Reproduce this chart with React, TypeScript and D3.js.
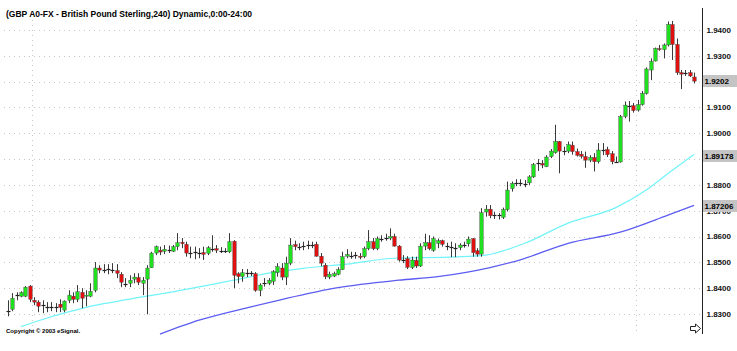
import React from 'react';
import * as d3 from 'd3';

const opens = [1.8315,1.8318,1.8369,1.8369,1.8369,1.8408,1.8353,1.8346,1.8338,1.8330,1.8328,1.8326,1.8338,1.8315,1.8353,1.8369,1.8357,1.8384,1.8369,1.8369,
1.8392,1.8478,1.8474,1.8472,1.8474,1.8468,1.8454,1.8419,1.8419,1.8435,1.8441,1.8419,1.8435,1.8479,1.8536,1.8547,1.8543,1.8551,1.8543,1.8561,
1.8578,1.8570,1.8540,1.8538,1.8540,1.8538,1.8535,1.8555,1.8553,1.8545,1.8543,1.8541,1.8582,1.8456,1.8445,1.8460,1.8458,1.8456,1.8392,1.8419,
1.8419,1.8427,1.8460,1.8478,1.8443,1.8497,1.8569,1.8561,1.8561,1.8565,1.8567,1.8570,1.8524,1.8489,1.8443,1.8447,1.8454,1.8472,1.8524,1.8528,
1.8526,1.8524,1.8522,1.8553,1.8580,1.8553,1.8590,1.8592,1.8594,1.8600,1.8563,1.8512,1.8514,1.8481,1.8508,1.8486,1.8563,1.8576,1.8547,1.8574,
1.8584,1.8565,1.8561,1.8559,1.8557,1.8567,1.8572,1.8592,1.8545,1.8532,1.8695,1.8706,1.8681,1.8681,1.8675,1.8704,1.8786,1.8806,1.8808,1.8806,
1.8808,1.8831,1.8881,1.8883,1.8871,1.8910,1.8925,1.8968,1.8931,1.8931,1.8954,1.8929,1.8919,1.8910,1.8896,1.8906,1.8890,1.8935,1.8937,1.8921,
1.8892,1.8889,1.9065,1.9109,1.9107,1.9090,1.9111,1.9154,1.9245,1.9280,1.9328,1.9324,1.9342,1.9421,1.9344,1.9235,1.9231,1.9235,1.9218];
const highs = [1.8353,1.8381,1.8384,1.8388,1.8408,1.8412,1.8365,1.8353,1.8353,1.8346,1.8346,1.8342,1.8357,1.8353,1.8392,1.8384,1.8412,1.8400,1.8392,1.8419,
1.8501,1.8489,1.8493,1.8493,1.8497,1.8493,1.8462,1.8439,1.8450,1.8458,1.8458,1.8443,1.8489,1.8541,1.8565,1.8561,1.8567,1.8565,1.8567,1.8613,
1.8594,1.8580,1.8561,1.8561,1.8555,1.8561,1.8563,1.8605,1.8567,1.8559,1.8555,1.8613,1.8586,1.8462,1.8474,1.8474,1.8466,1.8462,1.8419,1.8439,
1.8439,1.8470,1.8497,1.8497,1.8522,1.8594,1.8584,1.8574,1.8580,1.8584,1.8580,1.8580,1.8536,1.8497,1.8464,1.8464,1.8481,1.8541,1.8551,1.8541,
1.8540,1.8536,1.8561,1.8625,1.8594,1.8600,1.8605,1.8611,1.8632,1.8611,1.8567,1.8528,1.8524,1.8522,1.8522,1.8574,1.8611,1.8605,1.8600,1.8592,
1.8588,1.8576,1.8580,1.8574,1.8574,1.8580,1.8600,1.8594,1.8555,1.8710,1.8722,1.8722,1.8695,1.8691,1.8712,1.8813,1.8813,1.8822,1.8822,1.8819,
1.8838,1.8885,1.8900,1.8896,1.8915,1.8939,1.9033,1.8970,1.8948,1.8968,1.8968,1.8941,1.8931,1.8929,1.8915,1.8923,1.8962,1.8962,1.8948,1.8931,
1.8910,1.9071,1.9123,1.9125,1.9117,1.9129,1.9164,1.9255,1.9290,1.9332,1.9342,1.9348,1.9433,1.9435,1.9367,1.9245,1.9245,1.9245,1.9235];
const lows = [1.8291,1.8311,1.8353,1.8365,1.8365,1.8346,1.8334,1.8307,1.8303,1.8307,1.8311,1.8307,1.8307,1.8307,1.8342,1.8342,1.8346,1.8322,1.8330,1.8365,
1.8384,1.8458,1.8458,1.8454,1.8458,1.8439,1.8404,1.8404,1.8404,1.8419,1.8412,1.8373,1.8299,1.8478,1.8528,1.8528,1.8532,1.8536,1.8540,1.8547,
1.8555,1.8522,1.8516,1.8512,1.8516,1.8509,1.8528,1.8541,1.8536,1.8536,1.8536,1.8536,1.8400,1.8419,1.8425,1.8443,1.8447,1.8386,1.8369,1.8406,
1.8412,1.8412,1.8445,1.8431,1.8412,1.8489,1.8547,1.8547,1.8547,1.8551,1.8555,1.8522,1.8485,1.8435,1.8435,1.8443,1.8450,1.8470,1.8516,1.8514,
1.8514,1.8512,1.8516,1.8547,1.8547,1.8547,1.8580,1.8584,1.8586,1.8561,1.8503,1.8497,1.8474,1.8474,1.8478,1.8482,1.8547,1.8547,1.8541,1.8555,
1.8561,1.8547,1.8520,1.8520,1.8547,1.8557,1.8561,1.8522,1.8522,1.8522,1.8677,1.8671,1.8668,1.8666,1.8668,1.8697,1.8774,1.8795,1.8795,1.8791,
1.8800,1.8827,1.8854,1.8865,1.8869,1.8904,1.8921,1.8845,1.8915,1.8923,1.8917,1.8910,1.8902,1.8866,1.8888,1.8852,1.8883,1.8915,1.8908,1.8880,
1.8886,1.8886,1.9058,1.9045,1.9080,1.9084,1.9107,1.9150,1.9206,1.9278,1.9319,1.9290,1.9336,1.9284,1.9226,1.9171,1.9222,1.9218,1.9193];
const closes = [1.8313,1.8361,1.8372,1.8383,1.8404,1.8357,1.8346,1.8330,1.8336,1.8329,1.8326,1.8327,1.8326,1.8350,1.8373,1.8357,1.8386,1.8361,1.8373,1.8388,
1.8478,1.8470,1.8472,1.8474,1.8472,1.8458,1.8423,1.8416,1.8431,1.8443,1.8423,1.8431,1.8478,1.8536,1.8561,1.8540,1.8551,1.8549,1.8561,1.8576,
1.8572,1.8536,1.8538,1.8540,1.8538,1.8531,1.8557,1.8553,1.8547,1.8543,1.8545,1.8580,1.8450,1.8445,1.8460,1.8458,1.8460,1.8392,1.8412,1.8421,
1.8431,1.8464,1.8483,1.8443,1.8497,1.8567,1.8561,1.8559,1.8563,1.8567,1.8569,1.8524,1.8497,1.8445,1.8454,1.8456,1.8472,1.8522,1.8530,1.8526,
1.8528,1.8520,1.8553,1.8580,1.8553,1.8592,1.8592,1.8594,1.8600,1.8563,1.8509,1.8510,1.8481,1.8509,1.8486,1.8563,1.8576,1.8553,1.8592,1.8584,
1.8570,1.8563,1.8559,1.8557,1.8567,1.8568,1.8590,1.8538,1.8532,1.8692,1.8706,1.8681,1.8682,1.8683,1.8704,1.8780,1.8806,1.8808,1.8806,1.8804,
1.8831,1.8879,1.8883,1.8877,1.8908,1.8931,1.8968,1.8931,1.8933,1.8956,1.8929,1.8915,1.8911,1.8896,1.8906,1.8890,1.8935,1.8937,1.8917,1.8890,
1.8889,1.9065,1.9109,1.9107,1.9088,1.9111,1.9154,1.9249,1.9278,1.9328,1.9324,1.9342,1.9421,1.9344,1.9235,1.9229,1.9233,1.9222,1.9202];

const priceTicks = [1.83, 1.84, 1.85, 1.86, 1.87, 1.88, 1.89, 1.90, 1.91, 1.92, 1.93, 1.94];
const hiddenTicks = [1.92];
const separatorIdx = [5.5, 144.6];

const fastMaIdx = [3, 7, 17, 32, 38, 52, 60, 68, 78, 89, 103, 110, 119, 129, 140, 147, 152, 158];
const fastMaVals = [1.8251, 1.8274, 1.8322, 1.8369, 1.8386, 1.8431, 1.8458, 1.8477, 1.8493, 1.8516, 1.8521, 1.8528, 1.8574, 1.8652, 1.8712, 1.8780, 1.8844, 1.89178];
const slowMaIdx = [35, 44, 56, 63, 76, 90, 99, 111, 118, 129, 141, 152, 158];
const slowMaVals = [1.8222, 1.8276, 1.8328, 1.8356, 1.8402, 1.8431, 1.8445, 1.8480, 1.8510, 1.8574, 1.8617, 1.8683, 1.87206];

const lastPrice = 1.9202;
const fastLast = 1.89178;
const slowLast = 1.87206;

const title = '(GBP A0-FX - British Pound Sterling,240) Dynamic,0:00-24:00';
const copyright = 'Copyright \u00A9 2003 eSignal.';

export default function App() {
  const W = 737, H = 351;
  const n = closes.length;
  const x = d3.scaleLinear().domain([0, n - 1]).range([8, 694]);
  const y = d3.scaleLinear().domain([1.83, 1.94]).range([314, 30]);
  const font = '"Liberation Sans", Arial, sans-serif';
  const axisX = 702.5;

  const line = d3.line<[number, number]>()
    .x(d => x(d[0]))
    .y(d => y(d[1]))
    .curve(d3.curveMonotoneX);
  const fastPts = fastMaIdx.map((i, k) => [i, fastMaVals[k]] as [number, number]);
  const slowPts = slowMaIdx.map((i, k) => [i, slowMaVals[k]] as [number, number]);

  const fmt4 = d3.format('.4f');

  const labelBox = (v: number, text: string, key: string, shift: number) => {
    const cy = Math.round(y(v)) + shift;
    return (
      <g key={key}>
        <rect x={axisX + 0.5} y={cy - 6} width={34} height={12} fill="#c4c4c4" />
        <text x={axisX + 2} y={cy} dy="0.35em" fontFamily={font} fontWeight="bold" fontSize={8} fill="#000">{text}</text>
      </g>
    );
  };

  return (
    <svg width={W} height={H} style={{ position: 'absolute', left: 0, top: 0, background: '#fff' }}>
      <rect x={0} y={0} width={W} height={H} fill="#fff" />
      {priceTicks.map(t => (
        <line key={'g' + t} x1={4} x2={axisX - 2} y1={Math.round(y(t)) + 0.5} y2={Math.round(y(t)) + 0.5}
          stroke="#c8c8c8" strokeWidth={1} strokeDasharray="1,4" />
      ))}
      {separatorIdx.map(i => (
        <line key={'s' + i} x1={Math.round(x(i)) + 0.5} x2={Math.round(x(i)) + 0.5} y1={20} y2={335}
          stroke="#c8c8c8" strokeWidth={1} strokeDasharray="1,4" />
      ))}
      <path d={line(fastPts) || ''} fill="none" stroke="#70f4fa" strokeWidth={1.2} />
      <path d={line(slowPts) || ''} fill="none" stroke="#5c5cf2" strokeWidth={1.3} />
      {closes.map((c, i) => {
        const o = opens[i];
        const cx = Math.round(x(i)) + 0.5;
        const top = y(Math.max(o, c));
        const bot = y(Math.min(o, c));
        const doji = Math.abs(o - c) < 0.00035;
        const up = c >= o;
        return (
          <g key={i}>
            <line x1={cx} x2={cx} y1={y(highs[i])} y2={y(lows[i])} stroke="#3a3a3a" strokeWidth={1} />
            {doji ? (
              <line x1={cx - 2} x2={cx + 2} y1={Math.round(y(c)) + 0.5} y2={Math.round(y(c)) + 0.5} stroke="#222" strokeWidth={1.2} />
            ) : (
              <rect x={cx - 1.7} y={top} width={3.4} height={Math.max(1, bot - top)}
                fill={up ? '#1ee01e' : '#e01010'} stroke="#404040" strokeWidth={0.4} />
            )}
          </g>
        );
      })}
      <line x1={axisX} x2={axisX} y1={8} y2={334} stroke="#222" strokeWidth={1} />
      {priceTicks.filter(t => !hiddenTicks.includes(t)).map(t => (
        <text key={'t' + t} x={axisX + 4} y={y(t)} dy="0.35em" fontFamily={font} fontWeight="bold" fontSize={8} fill="#111">{fmt4(t)}</text>
      ))}
      {labelBox(lastPrice, fmt4(lastPrice), 'lp', 0)}
      {labelBox(fastLast, d3.format('.5f')(fastLast), 'fl', 2)}
      {labelBox(slowLast, d3.format('.5f')(slowLast), 'sl', 1)}
      <text x={6} y={17} fontFamily={font} fontWeight="bold" fontSize={8.5} fill="#000">{title}</text>
      <text x={6} y={333} fontFamily={font} fontWeight="bold" fontSize={6} fill="#000">{copyright}</text>
      <path d="M690.5,326.5 h5 v-2.5 l5,4.5 l-5,4.5 v-2.5 h-5 z" fill="#fff" stroke="#222" strokeWidth={1} />
    </svg>
  );
}
